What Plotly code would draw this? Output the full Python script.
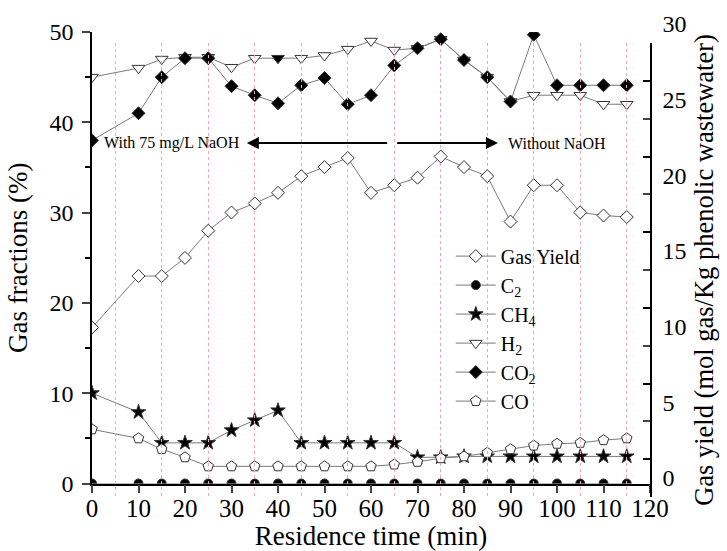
import plotly.graph_objects as go

# ---------------- data ----------------
time_min = [0, 10, 15, 20, 25, 30, 35, 40, 45, 50, 55, 60, 65, 70, 75, 80, 85, 90, 95, 100, 105, 110, 115]

gas_yield = [11.2, 14.6, 14.6, 15.8, 17.6, 18.8, 19.4, 20.1, 21.2, 21.8, 22.4, 20.1, 20.6,
             21.1, 22.5, 21.8, 21.2, 18.2, 20.6, 20.6, 18.8, 18.6, 18.5]
c2 = [0] * len(time_min)
ch4 = [10.0, 7.9, 4.5, 4.5, 4.5, 5.9, 7.0, 8.1, 4.5, 4.5, 4.5, 4.5, 4.5,
       2.9, 2.9, 3.0, 3.0, 3.0, 3.0, 3.0, 3.0, 3.0, 3.0]
h2 = [45.0, 46.0, 47.0, 47.2, 47.2, 46.1, 47.1, 47.1, 47.1, 47.4, 48.1, 49.0, 48.0,
      48.2, 49.2, 46.9, 45.0, 42.3, 43.0, 43.0, 43.0, 42.0, 42.0]
co2 = [38.0, 41.0, 45.0, 47.1, 47.1, 44.0, 43.0, 42.1, 44.1, 44.9, 42.0, 43.0, 46.3,
       48.2, 49.2, 46.9, 45.0, 42.3, 49.7, 44.1, 44.1, 44.1, 44.1]
co = [6.0, 5.0, 3.8, 2.9, 1.9, 1.9, 1.9, 1.9, 1.9, 1.9, 1.9, 1.9, 2.1,
      2.4, 2.8, 3.0, 3.4, 3.8, 4.2, 4.4, 4.5, 4.8, 5.0]

series_names = ["Gas Yield", "C<sub>2</sub>", "CH<sub>4</sub>", "H<sub>2</sub>", "CO<sub>2</sub>", "CO"]
x_tick_step = 10
left_tick_step = 10
right_tick_step = 5
grid_times = list(range(5, 120, 10))
label_with = "With 75 mg/L NaOH"
label_without = "Without NaOH"

# ---------------- style ----------------
FONT = "Liberation Serif"
LINE = dict(color="#7a7a7a", width=1)
EDGE = dict(color="#333333", width=1)

W, H = 727, 551
ML, MR, MT, MB = 92, 77, 32, 54
ph = H - MT - MB
def pfrac(py):  # pixel row -> paper fraction
    return (H - MB - py) / ph

fig = go.Figure()

def add(name, y, symbol, fill, size, xa="x", ya="y"):
    fig.add_trace(go.Scatter(
        x=time_min, y=y, name=name, mode="lines+markers",
        line=LINE, xaxis=xa, yaxis=ya,
        legendrank=series_names.index(name),
        marker=dict(symbol=symbol, size=size, color=fill, line=EDGE),
    ))

h2_fill = ["white"] * len(time_min)
h2_fill[time_min.index(40)] = "black"

add(series_names[1], c2, "circle", "black", 9)
add(series_names[2], ch4, "star", "black", 11)
add(series_names[3], h2, "triangle-down", h2_fill, 11)
add(series_names[4], co2, "diamond", "black", 10)
add(series_names[5], co, "pentagon", "white", 11)
add(series_names[0], gas_yield, "diamond", "white", 10, xa="x2", ya="y2")

tickfont = dict(family=FONT, size=24, color="black")

fig.update_layout(
    width=W, height=H,
    margin=dict(l=ML, r=MR, t=MT, b=MB, autoexpand=False),
    paper_bgcolor="white", plot_bgcolor="rgba(0,0,0,0)",
    font=dict(family=FONT, color="black"),
    showlegend=True,
    legend=dict(x=0.643, y=0.56, xanchor="left", yanchor="top",
                font=dict(family=FONT, size=20), bgcolor="rgba(0,0,0,0)",
                tracegroupgap=0, itemwidth=40),
    xaxis=dict(range=[0, 120], domain=[0, 1], anchor="y", automargin=False,
               tickmode="linear", tick0=0, dtick=x_tick_step,
               ticks="outside", ticklen=8, tickwidth=1.5, ticklabelstandoff=-6,
               showline=True, linecolor="black", linewidth=1.5,
               showgrid=False, zeroline=False, tickfont=dict(family=FONT, size=25, color="black"),
               title=dict(text="Residence time (min)", font=dict(family=FONT, size=27), standoff=7)),
    yaxis=dict(range=[0, 50], domain=[pfrac(483.5), 1], anchor="x", automargin=False,
               tickmode="linear", tick0=0, dtick=left_tick_step,
               ticks="outside", ticklen=8, tickwidth=1.5, ticklabelstandoff=4,
               minor=dict(dtick=left_tick_step / 2, ticks="outside", ticklen=5, tickwidth=1.5,
                          tickcolor="black", showgrid=False),
               showline=True, linecolor="black", linewidth=1.5,
               showgrid=False, zeroline=False, tickfont=tickfont,
               title=dict(text="Gas fractions (%)", font=dict(family=FONT, size=27), standoff=14)),
    xaxis2=dict(range=[0, 120], domain=[0, 1], anchor="y2", automargin=False,
                showline=False, showticklabels=False, ticks="", showgrid=False, zeroline=False,
                minor=dict(tickmode="array", tickvals=grid_times, showgrid=True,
                           gridcolor="#f0a8b8", griddash="dot", gridwidth=1, ticks="")),
    yaxis2=dict(range=[0, 30], domain=[0, pfrac(43)], anchor="x2", side="right", automargin=False,
                tickmode="linear", tick0=0, dtick=right_tick_step,
                ticks="inside", ticklen=7, tickwidth=1.5,
                minor=dict(dtick=right_tick_step / 2, ticks="inside", ticklen=7, tickwidth=1.5,
                           tickcolor="black", showgrid=False),
                showline=True, linecolor="black", linewidth=1.5,
                showgrid=False, zeroline=False, tickfont=tickfont,
                ticklabelshift=-19, ticklabelstandoff=6,
                title=dict(text="Gas yield (mol gas/Kg phenolic wastewater)",
                           font=dict(family=FONT, size=26.5), standoff=9)),
)

arrow_y = 37.7
fig.add_annotation(x=33.3, y=arrow_y, ax=63.8, ay=arrow_y, xref="x", yref="y", axref="x", ayref="y",
                   text="", showarrow=True, arrowhead=2, arrowsize=1.2, arrowwidth=2, arrowcolor="black")
fig.add_annotation(x=87.3, y=arrow_y, ax=65.3, ay=arrow_y, xref="x", yref="y", axref="x", ayref="y",
                   text="", showarrow=True, arrowhead=2, arrowsize=1.2, arrowwidth=2, arrowcolor="black")
fig.add_annotation(x=17.3, y=arrow_y, xref="x", yref="y", text=label_with, showarrow=False,
                   font=dict(family=FONT, size=16))
fig.add_annotation(x=100, y=arrow_y, xref="x", yref="y", text=label_without, showarrow=False,
                   font=dict(family=FONT, size=16))

fig.write_html("out.html", config={"displayModeBar": False},
               post_script="document.body.style.margin='0px';")
